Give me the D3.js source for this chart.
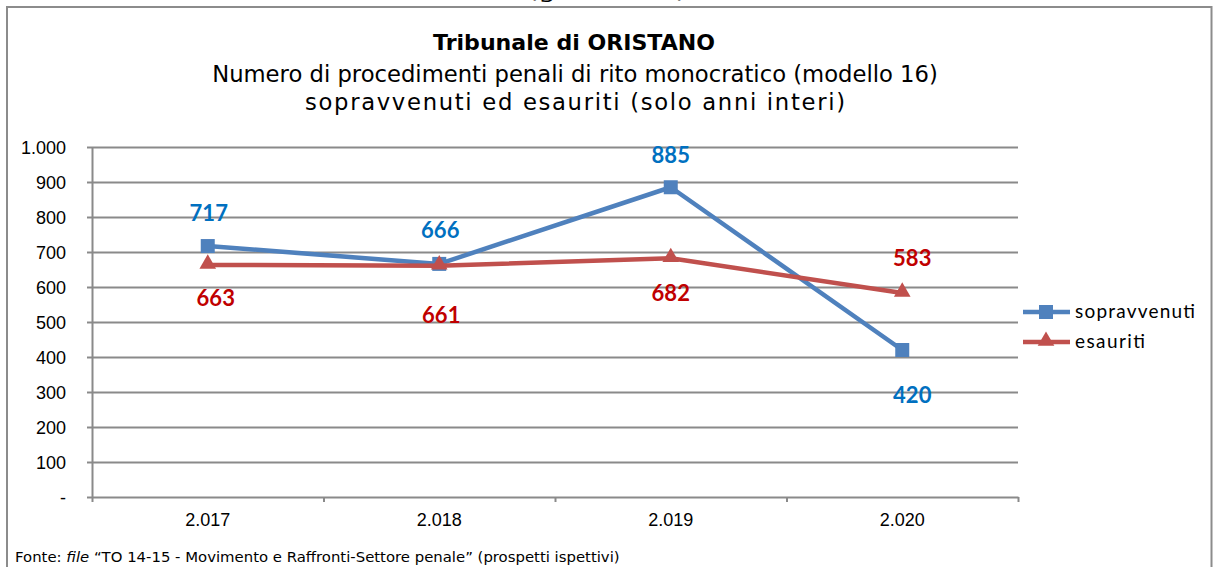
<!DOCTYPE html>
<html>
<head>
<meta charset="utf-8">
<script src="https://cdn.jsdelivr.net/npm/d3@7"></script>
<style>
  html, body { margin: 0; padding: 0; background: #fff; }
  svg { display: block; }
</style>
</head>
<body>
<svg id="chart" width="1217" height="567"></svg>
<script>
// ---- data ----
const categories = ["2.017", "2.018", "2.019", "2.020"];
const sopravvenuti = [717, 666, 885, 420];
const esauriti = [663, 661, 682, 583];
const yTickValues = [0, 100, 200, 300, 400, 500, 600, 700, 800, 900, 1000];
const yTickLabels = ["-", "100", "200", "300", "400", "500", "600", "700", "800", "900", "1.000"];
const seriesNames = ["sopravvenuti", "esauriti"];
const titleLines = ["Tribunale di ORISTANO",
  "Numero di procedimenti penali di rito monocratico (modello 16)",
  "sopravvenuti ed esauriti (solo anni interi)"];

// ---- layout (label placement, not data) ----
const sopLabelOffset = [[1, -33], [1, -34], [0, -32], [10, 45]];
const esaLabelOffset = [[8, 33], [2, 49], [0, 35], [10, -35]];

const svg = d3.select("#chart");
const W = 1217, H = 567;
svg.append("rect").attr("width", W).attr("height", H).attr("fill", "#fff");

const plot = { left: 92, right: 1018, top: 147, bottom: 497 };
const x = d3.scaleBand().domain(categories).range([plot.left, plot.right]).paddingInner(0).paddingOuter(0);
const xEdge = d3.scaleLinear().domain([0, categories.length]).range([plot.left, plot.right]);
const y = d3.scaleLinear().domain([0, 1000]).range([plot.bottom, plot.top]);
const cx = c => x(c) + x.bandwidth() / 2;

const gridColor = "#8a8a8a";

function fitText(sel, target) {
  const node = sel.node();
  const fs = parseFloat(sel.attr("font-size"));
  const w = node.getComputedTextLength();
  if (w > 0) sel.attr("font-size", (fs * target / w).toFixed(2));
  return parseFloat(sel.attr("font-size"));
}

// partial clipped caption above frame (cut off at the top edge, as in the source)
svg.append("text").attr("x", 607).attr("y", -2).attr("text-anchor", "middle")
  .attr("font-family", "DejaVu Sans").attr("font-size", 20).attr("fill", "#000")
  .attr("textLength", 159).attr("lengthAdjust", "spacingAndGlyphs")
  .text("(grafico 16)");

// frame
svg.append("rect").attr("x", 7).attr("y", 7).attr("width", 1204.5).attr("height", 600)
  .attr("fill", "none").attr("stroke", "#8c8c8c").attr("stroke-width", 2);

// titles
const t1 = svg.append("text").attr("x", 574).attr("y", 50).attr("text-anchor", "middle")
  .attr("font-family", "DejaVu Sans").attr("font-weight", "bold").attr("font-size", 20)
  .attr("fill", "#000").text(titleLines[0]);
fitText(t1, 282);
const t2 = svg.append("text").attr("x", 575).attr("y", 82).attr("text-anchor", "middle")
  .attr("font-family", "DejaVu Sans").attr("font-size", 20).attr("fill", "#000").text(titleLines[1]);
const subSize = fitText(t2, 726);
svg.append("text").attr("x", 575).attr("y", 110).attr("text-anchor", "middle")
  .attr("font-family", "DejaVu Sans").attr("font-size", subSize).attr("fill", "#000")
  .attr("textLength", 540).attr("lengthAdjust", "spacing").text(titleLines[2]);

// gridlines
const grid = svg.append("g").attr("transform", `translate(${plot.left},0)`)
  .call(d3.axisLeft(y).tickValues(yTickValues.filter(v => v > 0)).tickSize(-(plot.right - plot.left)).tickFormat(""));
grid.select(".domain").remove();
grid.selectAll(".tick line").attr("stroke", gridColor).attr("stroke-width", 2);

// y axis with labels
const yAxis = svg.append("g").attr("transform", `translate(${plot.left},0)`)
  .call(d3.axisLeft(y).tickValues(yTickValues).tickSize(5).tickSizeOuter(0).tickPadding(21)
    .tickFormat((d, i) => yTickLabels[i]));
yAxis.select(".domain").attr("stroke", gridColor).attr("stroke-width", 2);
yAxis.selectAll(".tick line").attr("stroke", gridColor).attr("stroke-width", 2);
yAxis.selectAll("text").attr("font-family", "Liberation Sans, Arial").attr("font-size", 18)
  .attr("fill", "#000").attr("dy", "0.36em");

// x axis line + boundary ticks
const xTicks = svg.append("g").attr("transform", `translate(0,${plot.bottom})`)
  .call(d3.axisBottom(xEdge).tickValues(d3.range(categories.length + 1)).tickSize(5).tickSizeOuter(0).tickFormat(""));
xTicks.select(".domain").attr("stroke", gridColor).attr("stroke-width", 2);
xTicks.selectAll(".tick line").attr("stroke", gridColor).attr("stroke-width", 2);

// x labels
const xAxis = svg.append("g").attr("transform", `translate(0,${plot.bottom})`)
  .call(d3.axisBottom(x).tickSize(0).tickPadding(16));
xAxis.select(".domain").remove();
xAxis.selectAll("text").attr("font-family", "Liberation Sans, Arial").attr("font-size", 18).attr("fill", "#000");

// series
const blue = "#4F81BD", red = "#C0504D";
const line = d3.line().x(d => cx(d.c)).y(d => y(d.v));
const sopData = categories.map((c, i) => ({ c, v: sopravvenuti[i] }));
const esaData = categories.map((c, i) => ({ c, v: esauriti[i] }));

svg.append("path").datum(sopData).attr("d", line).attr("fill", "none")
  .attr("stroke", blue).attr("stroke-width", 4.5).attr("stroke-linejoin", "round").attr("stroke-linecap", "round");
svg.append("g").selectAll("rect").data(sopData).join("rect")
  .attr("x", d => cx(d.c) - 7).attr("y", d => y(d.v) - 7)
  .attr("width", 14).attr("height", 14).attr("fill", blue);

svg.append("path").datum(esaData).attr("d", line).attr("fill", "none")
  .attr("stroke", red).attr("stroke-width", 4.5).attr("stroke-linejoin", "round").attr("stroke-linecap", "round");
const tri = d3.symbol().type(d3.symbolTriangle).size(120);
svg.append("g").selectAll("path").data(esaData).join("path")
  .attr("d", tri).attr("transform", d => `translate(${cx(d.c)},${y(d.v) - 1})`).attr("fill", red);

// data labels
const labelFont = "Lato, Open Sans, sans-serif";
svg.append("g").selectAll("text").data(sopData).join("text")
  .attr("x", (d, i) => cx(d.c) + sopLabelOffset[i][0])
  .attr("y", (d, i) => y(d.v) + sopLabelOffset[i][1])
  .attr("dy", "0.36em").attr("text-anchor", "middle")
  .attr("font-family", labelFont).attr("font-weight", "bold").attr("font-size", 22)
  .attr("fill", "#0070C0").text(d => d.v);
svg.append("g").selectAll("text").data(esaData).join("text")
  .attr("x", (d, i) => cx(d.c) + esaLabelOffset[i][0])
  .attr("y", (d, i) => y(d.v) + esaLabelOffset[i][1])
  .attr("dy", "0.36em").attr("text-anchor", "middle")
  .attr("font-family", labelFont).attr("font-weight", "bold").attr("font-size", 22)
  .attr("fill", "#C00000").text(d => d.v);

// legend
const legend = svg.append("g");
const legendY = [312, 342];
const legendColors = [blue, red];
seriesNames.forEach((name, i) => {
  const g = legend.append("g").attr("transform", `translate(0,${legendY[i]})`);
  g.append("line").attr("x1", 1023).attr("x2", 1070).attr("y1", 0).attr("y2", 0)
    .attr("stroke", legendColors[i]).attr("stroke-width", 4.5);
  if (i === 0) {
    g.append("rect").attr("x", 1046 - 7).attr("y", -7).attr("width", 14).attr("height", 14).attr("fill", blue);
  } else {
    g.append("path").attr("d", tri).attr("transform", "translate(1046,-1)").attr("fill", red);
  }
  const t = g.append("text").attr("x", 1075).attr("y", 6)
    .attr("font-family", "Lato, Open Sans, sans-serif").attr("font-size", 19).attr("fill", "#000").text(name);
  t.attr("textLength", i === 0 ? 120 : 70).attr("lengthAdjust", "spacing");
});

// footer
const foot = svg.append("text").attr("x", 15).attr("y", 562)
  .attr("font-family", "DejaVu Sans").attr("font-size", 12).attr("fill", "#000");
foot.append("tspan").text("Fonte: ");
foot.append("tspan").attr("font-style", "italic").text("file");
foot.append("tspan").text(" \u201cTO  14-15 - Movimento e Raffronti-Settore penale\u201d (prospetti ispettivi)");
fitText(foot, 605);
</script>
</body>
</html>
